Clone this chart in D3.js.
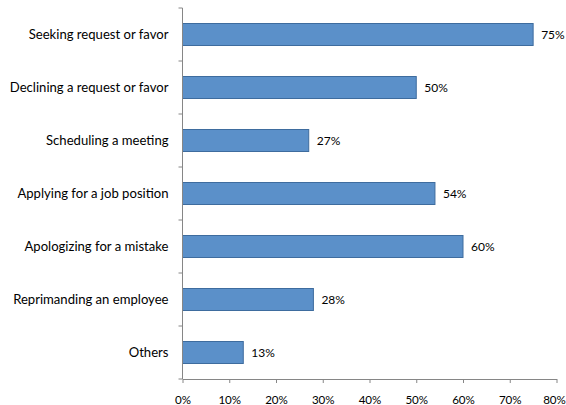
<!DOCTYPE html>
<html><head><meta charset="utf-8">
<script src="https://cdn.jsdelivr.net/npm/d3@7"></script>
<style>body{margin:0;background:#fff}svg{display:block}</style>
</head><body>
<script>
const categories = ["Seeking request or favor","Declining a request or favor","Scheduling a meeting","Applying for a job position","Apologizing for a mistake","Reprimanding an employee","Others"];
const values = [75,50,27,54,60,28,13];
const xTicks = [0,10,20,30,40,50,60,70,80];

const W=566,H=405;
const m={left:182.5,right:9.5,top:8,bottom:26};
const svg=d3.select("body").append("svg").attr("width",W).attr("height",H);
const x=d3.scaleLinear().domain([0,80]).range([m.left,W-m.right]);
const y=d3.scaleBand().domain(categories).range([m.top,H-m.bottom]).paddingInner(0.585).paddingOuter(0.2925);
const font="Lato, 'Open Sans', sans-serif";
const axisCol="#868686";

svg.selectAll("rect.bar").data(values).join("rect")
  .attr("x",x(0)).attr("y",(d,i)=>y(categories[i]))
  .attr("width",d=>x(d)-x(0)).attr("height",y.bandwidth())
  .attr("fill","#5B90C9").attr("stroke","#3E6C9E").attr("stroke-width",1);

svg.selectAll("text.val").data(values).join("text")
  .attr("x",d=>x(d)+8).attr("y",(d,i)=>y(categories[i])+y.bandwidth()/2)
  .attr("dy","0.35em").attr("font-family",font).attr("font-size",12).attr("fill","#000")
  .text(d=>d+"%");

const yBottom=H-m.bottom;
svg.append("line").attr("x1",m.left).attr("x2",m.left).attr("y1",m.top).attr("y2",yBottom).attr("stroke",axisCol);
d3.range(categories.length+1).forEach(i=>{
  const yy=m.top+i*(yBottom-m.top)/categories.length;
  svg.append("line").attr("x1",m.left-4).attr("x2",m.left).attr("y1",yy).attr("y2",yy).attr("stroke",axisCol);
});
svg.selectAll("text.cat").data(categories).join("text")
  .attr("x",m.left-14).attr("y",d=>y(d)+y.bandwidth()/2).attr("dy","0.35em")
  .attr("text-anchor","end").attr("font-family",font).attr("font-size",13.1).attr("fill","#000")
  .text(d=>d);

const xa=svg.append("g").attr("transform",`translate(0,${yBottom})`)
  .call(d3.axisBottom(x).tickValues(xTicks).tickFormat(d=>d+"%").tickSize(4).tickSizeOuter(0));
xa.select(".domain").attr("stroke",axisCol);
xa.selectAll(".tick line").attr("stroke",axisCol);
xa.selectAll(".tick text").attr("font-family",font).attr("font-size",11.6).attr("fill","#000").attr("y",0).attr("dy",0)
  .attr("transform",d=>`translate(${d===80?-2.5:0},24.5)`);
</script>
</body></html>
